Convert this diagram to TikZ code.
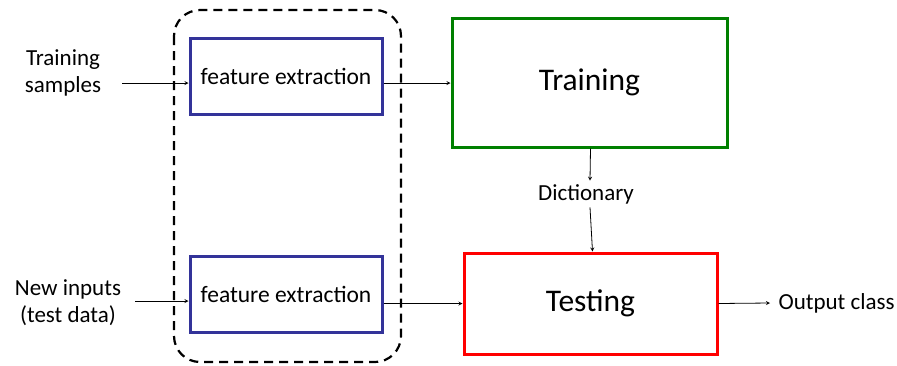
\documentclass[tikz,border=0pt]{standalone}
\usepackage{fontspec}
\setmainfont{Carlito}
\tikzset{% styles for the boxes and arrows
    fe/.style={draw={rgb,255:red,51;green,51;blue,153}, line width=3pt,
               minimum width=192pt, minimum height=76pt, font=\fontsize{23.5}{27}\selectfont},
    stage/.style={line width=3pt, font=\fontsize{31.5}{36}\selectfont},
    lbl/.style={align=center, font=\fontsize{23}{27}\selectfont},
    e/.style={-stealth, line width=0.8pt}}

\begin{document}
\begin{tikzpicture}[x=1pt,y=-1pt]
  \useasboundingbox (0,0) rectangle (897,365);

  % dashed group round both extraction steps
  \draw[dashed, line width=2.2pt, dash pattern=on 9pt off 6pt, rounded corners=26pt]
    (174,10) rectangle (401,362);

  \node[fe] (fe1) at (286,76) {feature extraction};
  \node[fe] (fe2) at (286,294) {feature extraction};
  \node[stage, draw={rgb,255:red,0;green,128;blue,0},
        minimum width=275pt, minimum height=129pt] (train) at (589.5,82.5) {Training};
  \node[stage, draw=red, minimum width=253pt, minimum height=101pt]
        (test) at (590.5,303.5) {Testing};

  \node[lbl] (samples) at (63,73) {Training\\samples};
  \node[lbl] (inputs) at (68,303) {New inputs\\(test data)};
  \node[lbl] (dict) at (586,194) {Dictionary};
  \node[lbl, anchor=west] (out) at (775,303) {Output class};

  \coordinate (in1) at (122,83);
  \coordinate (in2) at (135,301);
  \coordinate (o1) at (770,303);

  \draw[e] (in1) -- (in1 -| fe1.west);
  \draw[e] (in2) -- (in2 -| fe2.west);
  \draw[e] (fe1.east |- in1) -- (train.west |- in1);
  \draw[e] (fe2.east |- test) -- (test.west);
  \draw[e] ([xshift=1pt]train.south) -- ([xshift=4pt]dict.north);
  \draw[e] ([xshift=4pt]dict.south) -- ([xshift=2pt]test.north);
  \draw[e] (test.east) -- (o1);
\end{tikzpicture}
\end{document}
